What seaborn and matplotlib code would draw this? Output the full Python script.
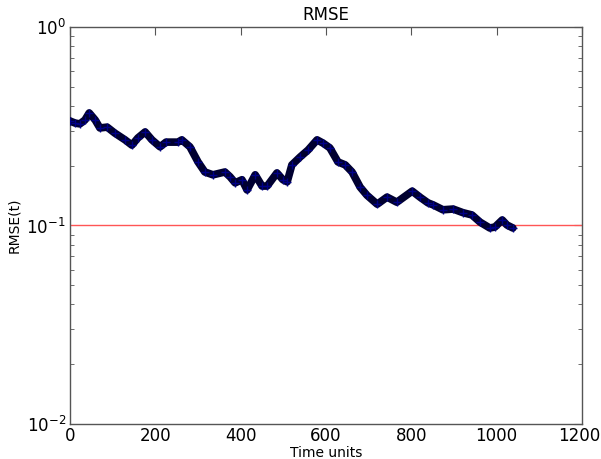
import matplotlib
matplotlib.use("Agg")
import matplotlib.pyplot as plt
import matplotlib.transforms as mtransforms
import seaborn as sns
import pandas as pd
from matplotlib.ticker import LogLocator, NullFormatter

time_units = [0, 12, 23, 35, 45, 59, 70, 87, 105, 129, 145, 159, 176, 192, 211, 225,
              253, 262, 281, 300, 316, 335, 363, 375, 387, 403, 415, 434, 450, 462,
              485, 499, 509, 520, 539, 558, 579, 593, 609, 628, 645, 661, 680, 696,
              720, 743, 766, 802, 820, 839, 851, 874, 898, 921, 942, 961, 984, 996,
              1013, 1024, 1038]
rmse = [0.336, 0.328, 0.325, 0.340, 0.369, 0.340, 0.310, 0.313, 0.292, 0.270, 0.254,
        0.276, 0.296, 0.270, 0.249, 0.263, 0.263, 0.270, 0.249, 0.209, 0.186, 0.180,
        0.186, 0.176, 0.164, 0.170, 0.151, 0.180, 0.158, 0.158, 0.184, 0.170, 0.166,
        0.202, 0.221, 0.240, 0.270, 0.260, 0.246, 0.209, 0.202, 0.186, 0.156, 0.142,
        0.128, 0.139, 0.131, 0.149, 0.139, 0.130, 0.127, 0.120, 0.121, 0.116, 0.113,
        0.104, 0.0971, 0.0983, 0.1066, 0.1006, 0.0971]
threshold = 0.1
x_ticks = [0, 200, 400, 600, 800, 1000, 1200]

df = pd.DataFrame({"t": time_units, "rmse": rmse})

sns.set_style("white")
plt.rcParams["font.family"] = ["DejaVu Sans"]
plt.rcParams["text.color"] = "black"
plt.rcParams["axes.labelcolor"] = "black"
plt.rcParams["xtick.color"] = "black"
plt.rcParams["ytick.color"] = "black"

fig = plt.figure(figsize=(6.01, 4.59), dpi=100)
ax = fig.add_axes([0.1165, 0.0763, 0.8519, 0.8649])

ax.axhline(threshold, color="#ff5555", lw=1.0, zorder=1)
sns.lineplot(data=df, x="t", y="rmse", ax=ax, color="#000030", lw=5.5,
             marker="+", markersize=6, markeredgecolor="#000088",
             markeredgewidth=1.0, zorder=3)

ax.set_yscale("log")
ax.set_ylim(0.01, 1)
ax.set_xlim(0, 1200)
ax.set_xticks(x_ticks)
ax.yaxis.set_minor_locator(LogLocator(base=10, subs=range(2, 10)))
ax.yaxis.set_minor_formatter(NullFormatter())

ax.tick_params(axis="both", which="major", direction="in", length=6, width=0.8,
               top=True, right=True, labelsize=12, color="#555555", pad=3)
ax.tick_params(axis="x", which="major", pad=2)
ax.tick_params(axis="y", which="minor", direction="in", length=3, width=0.6,
               left=True, right=True, color="#555555")
for s in ax.spines.values():
    s.set_color("#555555")
    s.set_linewidth(1.0)

ax.set_title("RMSE", fontsize=12, pad=5)
ax.set_xlabel("Time units", fontsize=10, labelpad=1)
ax.set_ylabel("RMSE(t)", fontsize=10, labelpad=4)

# nudge the last x tick label slightly left so it stays inside the figure
last = ax.get_xticklabels()[-1]
last.set_transform(last.get_transform() +
                   mtransforms.ScaledTranslation(-3 / 100, 0, fig.dpi_scale_trans))

fig.savefig("out.png", dpi=100, facecolor="white")
